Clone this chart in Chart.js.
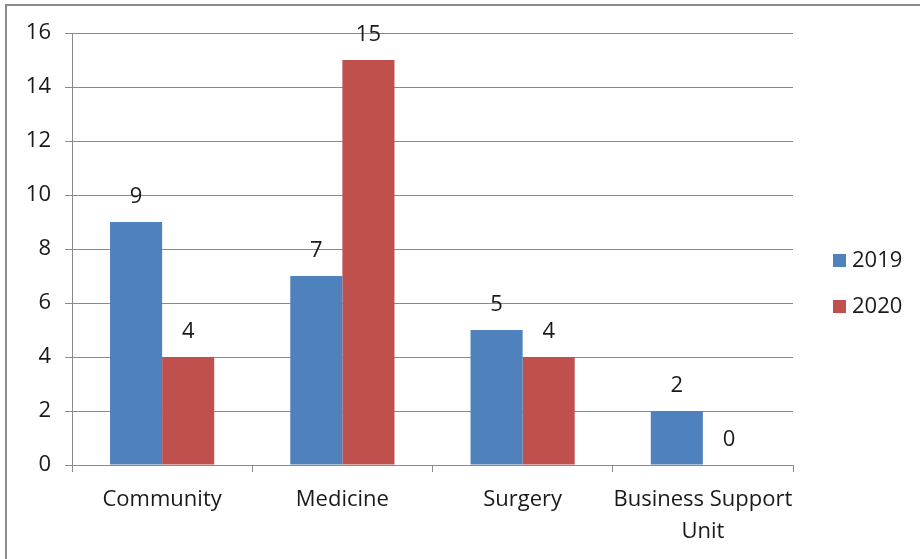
<!DOCTYPE html>
<html lang="en">
<head>
    <meta charset="UTF-8">
    <title>Incidents by Division</title>
    <script src="https://cdn.jsdelivr.net/npm/chart.js"></script>
    <style>
        body { margin: 0; background: #fff; font-family: "Open Sans", sans-serif; }
        .frame {
            position: absolute; left: 5px; top: 4px; right: 0; bottom: 0;
            border-top: 2px solid #8c8c8c;
            border-left: 2px solid #8c8c8c;
        }
        #divisionChart { position: absolute; left: 0; top: 0; }
    </style>
</head>
<body>
    <div class="frame"></div>
    <canvas id="divisionChart" width="920" height="559"></canvas>

    <script>
        // Divisions and yearly counts
        var divisions = ['Community', 'Medicine', 'Surgery', ['Business Support', 'Unit']];
        var years = ['2019', '2020'];
        var counts2019 = [9, 7, 5, 2];
        var counts2020 = [4, 15, 4, 0];
        var yearColors = ['#4F81BD', '#C0504D'];

        var font = { family: '"Open Sans", sans-serif', size: 22 };
        var textColor = '#1a1a1a';
        var gridColor = '#8a8a8a';

        // Value labels above every bar
        var valueLabels = {
            id: 'valueLabels',
            afterDatasetsDraw: function (chart) {
                var ctx = chart.ctx;
                ctx.save();
                ctx.font = '22px "Open Sans", sans-serif';
                ctx.fillStyle = textColor;
                ctx.textAlign = 'center';
                ctx.textBaseline = 'middle';
                chart.data.datasets.forEach(function (ds, i) {
                    chart.getDatasetMeta(i).data.forEach(function (bar, j) {
                        ctx.fillText(String(ds.data[j]), bar.x, bar.y - 25);
                    });
                });
                ctx.restore();
            }
        };

        // Legend to the right of the plot
        var sideLegend = {
            id: 'sideLegend',
            afterDraw: function (chart) {
                var ctx = chart.ctx;
                ctx.save();
                ctx.font = '22px "Open Sans", sans-serif';
                ctx.textBaseline = 'middle';
                chart.data.datasets.forEach(function (ds, i) {
                    var y = 260 + i * 46;
                    ctx.fillStyle = ds.backgroundColor;
                    ctx.fillRect(833, y - 6, 13, 13);
                    ctx.fillStyle = textColor;
                    ctx.fillText(ds.label, 852, y + 1);
                });
                ctx.restore();
            }
        };

        var ctx = document.getElementById('divisionChart').getContext('2d');
        var divisionChart = new Chart(ctx, {
            type: 'bar',
            data: {
                labels: divisions,
                datasets: [
                    { label: years[0], data: counts2019, backgroundColor: yearColors[0] },
                    { label: years[1], data: counts2020, backgroundColor: yearColors[1] }
                ]
            },
            options: {
                responsive: false,
                animation: false,
                layout: { padding: { left: 0, top: 33, right: 127, bottom: 0 } },
                datasets: { bar: { categoryPercentage: 0.578, barPercentage: 1.0 } },
                plugins: {
                    legend: { display: false },
                    tooltip: { enabled: false }
                },
                scales: {
                    x: {
                        afterFit: function (s) { s.height = 94; },
                        grid: {
                            offset: true,
                            drawOnChartArea: false,
                            color: gridColor,
                            tickLength: 7
                        },
                        border: { color: gridColor },
                        ticks: {
                            font: Object.assign({ lineHeight: 1.45 }, font),
                            color: textColor,
                            padding: 12,
                            maxRotation: 0,
                            autoSkip: false
                        }
                    },
                    y: {
                        min: 0,
                        max: 16,
                        afterFit: function (s) { s.width = 72; },
                        grid: { color: gridColor, tickLength: 7 },
                        border: { color: gridColor },
                        ticks: { stepSize: 2, font: font, color: textColor, padding: 14 }
                    }
                }
            },
            plugins: [valueLabels, sideLegend]
        });
    </script>
</body>
</html>
